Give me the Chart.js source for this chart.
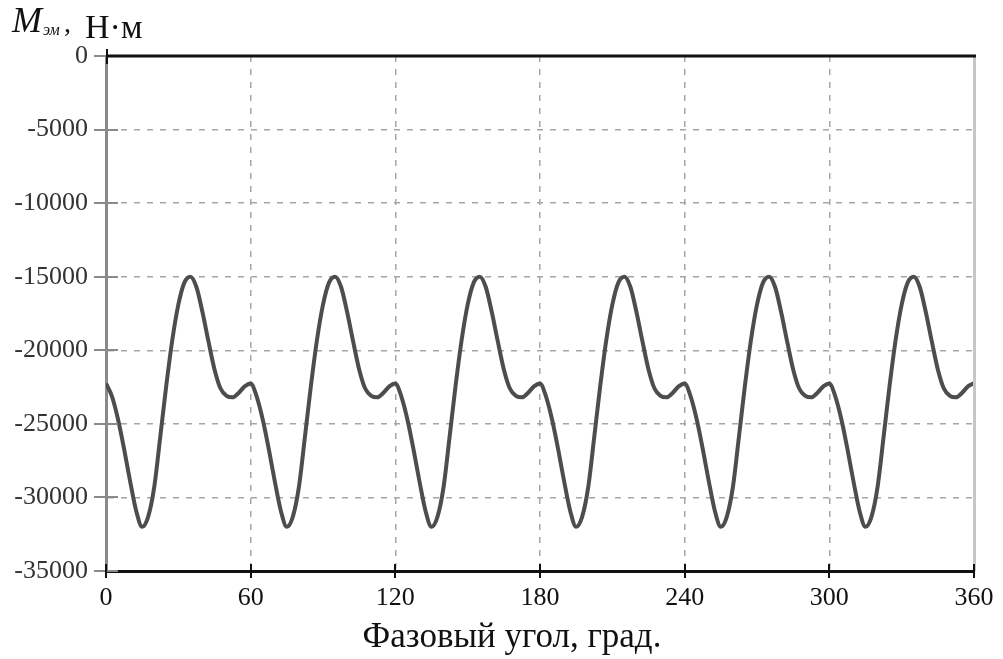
<!DOCTYPE html>
<html lang="ru">
<head>
<meta charset="utf-8">
<title>Электромагнитный момент</title>
<script src="https://cdn.jsdelivr.net/npm/chart.js@4.4.1/dist/chart.umd.min.js"></script>
<style>
    html, body { margin: 0; padding: 0; background: #fff; }
    #wrap { position: relative; width: 1003px; height: 659px; }
</style>
</head>
<body>
<div id="wrap"><canvas id="torqueChart"></canvas></div>
<script>
// Phase angle step between samples, degrees
const angleStep = 2.5;

// Electromagnetic torque M_эм, N·m, every 2.5 degrees (0..360)
const torque = [
    // 0 .. 57.5
    -22250, -23150, -24700, -26700, -28900, -30900, -32000, -31300,
    -29300, -25900, -22400, -19300, -16900, -15400, -15000, -15700,
    -17400, -19400, -21300, -22600, -23100, -23200, -22900, -22450,
    // 60 .. 117.5
    -22250, -23150, -24700, -26700, -28900, -30900, -32000, -31300,
    -29300, -25900, -22400, -19300, -16900, -15400, -15000, -15700,
    -17400, -19400, -21300, -22600, -23100, -23200, -22900, -22450,
    // 120 .. 177.5
    -22250, -23150, -24700, -26700, -28900, -30900, -32000, -31300,
    -29300, -25900, -22400, -19300, -16900, -15400, -15000, -15700,
    -17400, -19400, -21300, -22600, -23100, -23200, -22900, -22450,
    // 180 .. 237.5
    -22250, -23150, -24700, -26700, -28900, -30900, -32000, -31300,
    -29300, -25900, -22400, -19300, -16900, -15400, -15000, -15700,
    -17400, -19400, -21300, -22600, -23100, -23200, -22900, -22450,
    // 240 .. 297.5
    -22250, -23150, -24700, -26700, -28900, -30900, -32000, -31300,
    -29300, -25900, -22400, -19300, -16900, -15400, -15000, -15700,
    -17400, -19400, -21300, -22600, -23100, -23200, -22900, -22450,
    // 300 .. 357.5
    -22250, -23150, -24700, -26700, -28900, -30900, -32000, -31300,
    -29300, -25900, -22400, -19300, -16900, -15400, -15000, -15700,
    -17400, -19400, -21300, -22600, -23100, -23200, -22900, -22450,
    // 360
    -22250
];

const angles = Array.from({length: torque.length}, (_, i) => i * angleStep);

// Axis ticks
const xTicks = [0, 60, 120, 180, 240, 300, 360];
const yTicks = [0, -5000, -10000, -15000, -20000, -25000, -30000, -35000];

const xTitle = 'Фазовый угол, град.';
const serif = '"Liberation Serif", "Times New Roman", serif';

// Frame, crossing tick marks and axis titles
const framePlugin = {
    id: 'frame',
    afterDraw(chart) {
        const {ctx, chartArea: a, scales} = chart;
        ctx.save();

        // right border
        ctx.strokeStyle = '#c6c6c6';
        ctx.lineWidth = 3;
        ctx.beginPath();
        ctx.moveTo(a.right + 0.5, a.top);
        ctx.lineTo(a.right + 0.5, a.bottom);
        ctx.stroke();

        // y ticks (gray, crossing the axis)
        ctx.strokeStyle = '#8a8a8a';
        ctx.lineWidth = 2;
        yTicks.forEach(v => {
            const y = Math.round(scales.y.getPixelForValue(v));
            ctx.beginPath();
            ctx.moveTo(a.left - 12, y);
            ctx.lineTo(a.left + 12, y);
            ctx.stroke();
        });

        // top border
        ctx.strokeStyle = '#111';
        ctx.lineWidth = 3;
        ctx.beginPath();
        ctx.moveTo(a.left, a.top);
        ctx.lineTo(a.right + 2, a.top);
        ctx.stroke();

        // x ticks (black, crossing the axis)
        ctx.lineWidth = 2;
        xTicks.forEach(v => {
            const x = Math.round(scales.x.getPixelForValue(v));
            ctx.beginPath();
            ctx.moveTo(x, a.bottom - 7);
            ctx.lineTo(x, a.bottom + 7);
            ctx.stroke();
        });
        ctx.beginPath();
        ctx.moveTo(a.left + 1, a.top - 7);
        ctx.lineTo(a.left + 1, a.top + 8);
        ctx.stroke();

        // axis titles
        ctx.fillStyle = '#111';
        ctx.textBaseline = 'alphabetic';
        ctx.textAlign = 'center';
        ctx.font = '35px ' + serif;
        ctx.fillText(xTitle, 512, 647);

        ctx.textAlign = 'left';
        ctx.font = 'italic 36px ' + serif;
        ctx.fillText('M', 12, 32);
        ctx.font = 'italic 16px ' + serif;
        ctx.fillText('эм', 43, 35);
        ctx.font = '28px ' + serif;
        ctx.fillText(',', 64, 32);
        ctx.font = '34px ' + serif;
        ctx.fillText('Н·м', 85, 38);

        ctx.restore();
    }
};

const ctx = document.getElementById('torqueChart').getContext('2d');
const chart = new Chart(ctx, {
    type: 'line',
    data: {
        labels: angles,
        datasets: [{
            data: angles.map((a, i) => ({x: a, y: torque[i]})),
            borderColor: '#4d4d4d',
            borderWidth: 4,
            pointRadius: 0,
            fill: false,
            cubicInterpolationMode: 'monotone'
        }]
    },
    options: {
        responsive: true,
        maintainAspectRatio: false,
        devicePixelRatio: 1,
        animation: false,
        layout: { padding: { top: 56, right: 29, left: 0, bottom: 0 } },
        plugins: {
            legend: { display: false },
            tooltip: { enabled: false }
        },
        scales: {
            x: {
                type: 'linear',
                min: 0,
                max: 360,
                afterFit: s => { s.height = 88; s.paddingLeft = 0; s.paddingRight = 0; },
                afterBuildTicks: s => { s.ticks = xTicks.map(v => ({value: v})); },
                ticks: {
                    padding: 12,
                    color: '#111',
                    font: { family: serif, size: 26 },
                    callback: v => String(v)
                },
                grid: {
                    drawTicks: false,
                    color: c => (c.tick && (c.tick.value === 0 || c.tick.value === 360)) ? 'rgba(0,0,0,0)' : '#a6a6a6',
                    lineWidth: 1.5
                },
                border: { display: true, color: '#111', width: 3, dash: [6, 7] }
            },
            y: {
                type: 'linear',
                min: -35000,
                max: 0,
                afterFit: s => { s.width = 106; },
                afterBuildTicks: s => { s.ticks = yTicks.map(v => ({value: v})); },
                ticks: {
                    padding: 18,
                    color: '#333',
                    font: { family: serif, size: 26 },
                    callback: v => String(v)
                },
                grid: {
                    drawTicks: false,
                    color: c => (c.tick && (c.tick.value === 0 || c.tick.value === -35000)) ? 'rgba(0,0,0,0)' : '#a6a6a6',
                    lineWidth: 1.5
                },
                border: { display: true, color: '#8a8a8a', width: 3, dash: [6, 7] }
            }
        }
    },
    plugins: [framePlugin]
});
</script>
</body>
</html>
